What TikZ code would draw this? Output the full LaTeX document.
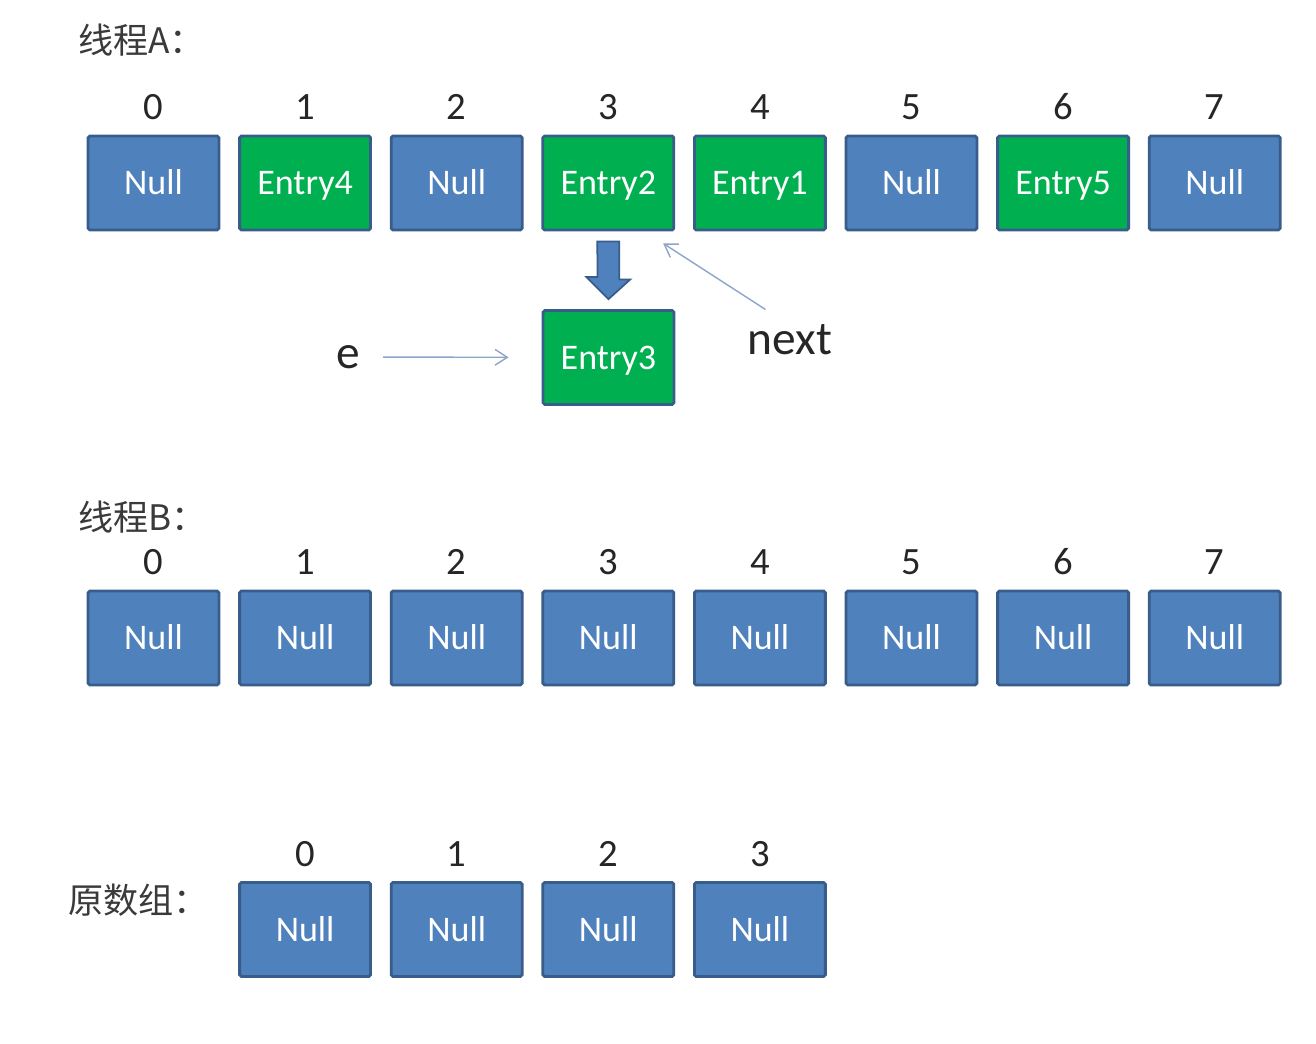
\documentclass[tikz,border=0pt]{standalone}
\usepackage{fontspec}
\setmainfont{Carlito}
\newfontfamily\cjk{Noto Sans CJK SC}
\usepackage{xcolor}
\usetikzlibrary{arrows.meta, calc}

\definecolor{cellblue}{HTML}{4F81BD}
\definecolor{cellgreen}{HTML}{00B050}
\definecolor{cellline}{HTML}{385D8A}
\definecolor{thinline}{HTML}{8CA5C8}
\definecolor{labgray}{HTML}{3A3A3A}

\tikzset{
  cella/.style={draw=cellline, line width=1.6pt, rounded corners=1pt, minimum width=2.62cm,
    minimum height=1.88cm, inner sep=0pt, text height=14pt, text depth=0.8pt,
    text=white, font=\fontsize{20.5}{22}\selectfont},
  idx/.style={font=\fontsize{22}{24}\selectfont, text=black!85},
  titolo/.style={anchor=west, inner sep=0pt, font=\cjk\fontsize{20}{22}\selectfont, text=labgray},
  lbl/.style={inner sep=0pt, font=\fontsize{27}{29}\selectfont, text=black!85},
  freccia/.style={draw=thinline, line width=0.8pt, -{Straight Barb[length=7pt, width=9pt]}}
}

\begin{document}
\begin{tikzpicture}[x=0.02cm, y=-0.02cm]
        \useasboundingbox (0,0) rectangle (1316,1044);

        % Thread A: tabella con le entry
        \node[titolo] (titA) at (78,40) {线程A：};
        \foreach \i/\t/\c in {0/Null/cellblue, 1/Entry4/cellgreen, 2/Null/cellblue, 3/Entry2/cellgreen,
                              4/Entry1/cellgreen, 5/Null/cellblue, 6/Entry5/cellgreen, 7/Null/cellblue} {
            \node[cella, fill=\c] (a\i) at ({153.5+151.6*\i},183) {\t};
            \node[idx] (ia\i) at ({153.5+151.6*\i},107) {\i};
        }

        % Entry3 sotto la cella 3
        \node[cella, fill=cellgreen] (ent3) at (608.5,357.5) {Entry3};

        % Freccia piena verso Entry3
        \draw[fill=cellblue, draw=cellline, line width=1pt]
        ($(a3.south)+(-11,10)$) -- ++(22,0) -- ++(0,38) -- ++(11,0) --
        ($(ent3.north)+(0,-10)$) -- ++(-22,-22) -- ++(11,0) -- cycle;

        % Puntatore e
        \node[lbl] (ev) at (348,357) {e};
        \draw[freccia, shorten <=0.46cm, shorten >=0.66cm] (ev) -- (ent3);

        % Puntatore next
        \node[lbl] (nxt) at (790,340) {next};
        \coordinate (nextpunta) at ($(a3.south east)+(-12,12)$);
        \draw[freccia] ($(nxt.north west)+(18,-15)$) -- (nextpunta);

        % Thread B: tabella vuota
        \node[titolo] (titB) at (78,517) {线程B：};
        \foreach \i in {0,...,7} {
            \node[cella, fill=cellblue] (b\i) at ({153.5+151.6*\i},638) {Null};
            \node[idx] (ib\i) at ({153.5+151.6*\i},562) {\i};
        }

        % Array originale
        \node[titolo] (titC) at (68,900) {原数组：};
        \foreach \i in {0,...,3} {
            \node[cella, fill=cellblue] (c\i) at ({153.5+151.6*(\i+1)},929.5) {Null};
            \node[idx] (ic\i) at ({153.5+151.6*(\i+1)},854) {\i};
        }

    \end{tikzpicture}
\end{document}
